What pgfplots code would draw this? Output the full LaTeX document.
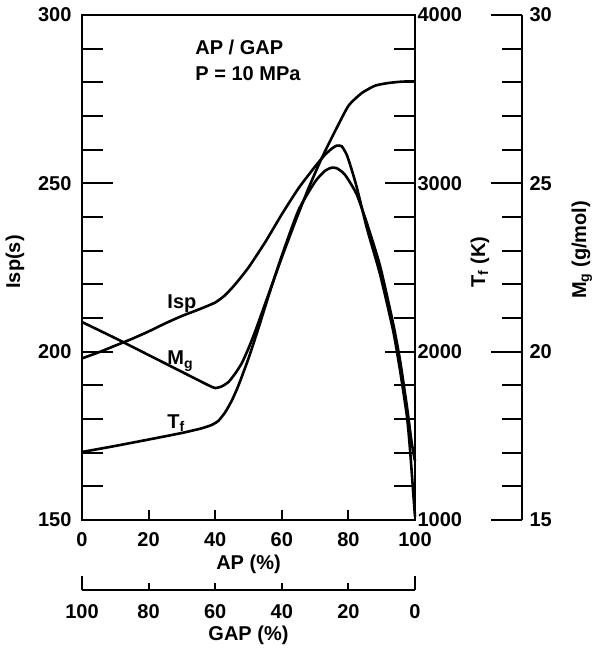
\documentclass[border=0pt]{standalone}
\usepackage{pgfplots}
\pgfplotsset{compat=1.18}
\usepackage{fontspec}
\setmainfont{Liberation Sans}
\newcommand{\ff}{\fontsize{20}{23}\selectfont\bfseries}
\begin{document}
\begin{tikzpicture}
\useasboundingbox (0,0) rectangle (596pt,652pt);
\pgfplotsset{
 base/.style={scale only axis, anchor=south west, height=505pt,
   /pgf/number format/assume math mode=true, /pgf/number format/1000 sep={},
   axis line style={line width=2pt,-}, tick style={line width=2pt, black},
   tick label style={font=\ff}, label style={font=\ff}, clip=false},
 curve/.style={line width=2.6pt, black, smooth, tension=0.35},
}
% main axis: box, x ticks, Isp curve
\begin{axis}[base, at={(82pt,132pt)}, width=333pt,
  xmin=0, xmax=100, ymin=150, ymax=300,
  xtick={0,20,...,100}, xtick pos=left, ytick=\empty,
  major tick length=10pt, tick align=inside,
  xticklabel style={yshift=-9pt},
  xlabel={AP (\%)}, xlabel style={at={(axis description cs:0.5,-0.087)}, anchor=center, font=\ff}]
\addplot[curve] coordinates {
(0,198) (5,199.8) (10,201.8) (15,203.8) (20,206) (25,208.4) (30,210.6) (35,212.5)
(40,214.6) (43,216.8) (46,220) (50,225) (55,232.5) (60,240.8) (65,248.5) (70,255)
(73,258.5) (75,260.3) (76.5,261.2) (78,261) (79.5,258.5) (81,254) (82.6,248.5)
(85.6,236.5) (89.5,223) (93.4,206.4) (95.5,194.5) (97.6,180.6) (98.5,171) (99.4,159) (100,151)};
\node[anchor=base west, font=\ff] at (axis description cs:0.33,0.921) {AP / GAP};
\node[anchor=base west, font=\ff] at (axis description cs:0.33,0.871) {P = 10 MPa};
\node[anchor=base west, font=\ff] at (axis description cs:0.246,0.418) {Isp};
\node[anchor=base west, font=\ff] at (axis description cs:0.246,0.307) {M\textsubscript{g}};
\node[anchor=base west, font=\ff] at (axis description cs:0.246,0.182) {T\textsubscript{f}};
\end{axis}
% Isp ticks
\begin{axis}[base, at={(82pt,132pt)}, width=333pt,
  xmin=0, xmax=100, ymin=150, ymax=300,
  axis x line=none, axis y line=left, axis line style={line width=2pt,-},
  ytick={150,200,250,300}, minor ytick={160,170,...,290},
  major tick length=31pt, minor tick length=21pt, tick align=inside,
  yticklabel style={xshift=-7pt},
  ylabel={Isp(s)}, ylabel style={at={(axis description cs:-0.201,0.511)}, anchor=center, font=\ff}]
\end{axis}
% Tf axis
\begin{axis}[base, at={(82pt,132pt)}, width=333pt,
  xmin=0, xmax=100, ymin=1000, ymax=4000,
  axis x line=none, axis y line=right, axis line style={line width=2pt,-},
  ytick={1000,2000,3000,4000}, minor ytick={1200,1400,...,3800},
  major tick length=30pt, minor tick length=21pt, tick align=inside,
  yticklabel style={xshift=-1pt},
  ylabel={T\textsubscript{f} (K)}, ylabel style={at={(axis description cs:1.195,0.511)}, anchor=center, rotate=0, font=\ff}]
\addplot[curve] coordinates {
(0,1404) (10,1440) (20,1478) (30,1517) (36,1545) (39,1565) (41,1590) (43,1640)
(45,1710) (47,1800) (50,1960) (53,2140) (56,2330) (60,2570) (65,2840) (70,3010)
(73,3075) (75,3093) (76.5,3090) (78,3070) (79,3050) (80.5,3005) (82.6,2930)
(85.6,2760) (89.5,2510) (93.4,2170) (95.5,1950) (97.6,1670) (99,1460) (100,1350)};
\end{axis}
% Mg axis
\begin{axis}[base, at={(82pt,132pt)}, width=440pt,
  xmin=0, xmax=132.13, ymin=15, ymax=30,
  axis x line=none, axis y line=right, axis line style={line width=2pt,-},
  ytick={15,20,25,30}, minor ytick={16,17,...,29},
  major tick length=31pt, minor tick length=20pt, tick align=inside,
  yticklabel style={xshift=4pt},
  ylabel={M\textsubscript{g} (g/mol)}, ylabel style={at={(axis description cs:1.136,0.535)}, anchor=center, font=\ff}]
\addplot[curve] coordinates {
(0,20.88) (10,20.4) (20,19.9) (30,19.4) (38,19.0) (40,18.92) (42,18.97) (44,19.1)
(46,19.35) (48,19.66) (50,20.1) (52,20.6) (56,21.7) (60,22.8) (64,23.85) (68,24.85)
(72,25.75) (76,26.55) (80,27.3) (84,27.68) (88,27.9) (92,27.98) (96,28.02) (100,28.03)};
\end{axis}
% GAP axis
\begin{axis}[base, at={(82pt,62pt)}, width=333pt, height=10pt,
  xmin=0, xmax=100, x dir=reverse, ymin=0, ymax=1,
  axis y line=none, axis x line=bottom, axis line style={line width=2pt,-},
  xtick={20,40,60,80}, extra x ticks={0,100},
  major tick length=7pt, extra x tick style={major tick length=14pt},
  tick align=inside, xticklabel style={yshift=-11pt},
  xlabel={GAP (\%)}, xlabel style={at={(axis description cs:0.5,0)}, anchor=center, yshift=-45pt, font=\ff}]
\end{axis}
\end{tikzpicture}
\end{document}
